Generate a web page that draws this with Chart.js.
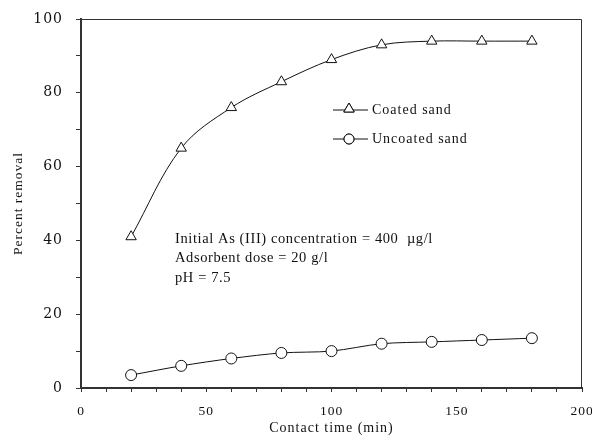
<!DOCTYPE html>
<html>
<head>
<meta charset="utf-8">
<script src="https://cdn.jsdelivr.net/npm/chart.js@4"></script>
<style>
  html, body { margin: 0; padding: 0; background: #fff; }
  #wrap { width: 592px; height: 436px; }
</style>
</head>
<body>
<div id="wrap"><canvas id="myChart" width="592" height="436"></canvas></div>
<script>
const contactTime = [20, 40, 60, 80, 100, 120, 140, 160, 180];
const coatedSand = [41, 65, 76, 83, 89, 93, 94, 94, 94];
const uncoatedSand = [3.5, 6, 8, 9.5, 10, 12, 12.5, 13, 13.5];
const seriesNames = ["Coated sand", "Uncoated sand"];
const noteLines = [
  "Initial As (III) concentration = 400  \u00b5g/l",
  "Adsorbent dose = 20 g/l",
  "pH = 7.5"
];

const ink = "#111";
const serif = "'Liberation Serif', 'DejaVu Serif', serif";

// letter spacing for the old bitmap-ish look
const spacing = {
  id: "spacing",
  beforeLayout(chart) { chart.ctx.letterSpacing = "1px"; },
  beforeDraw(chart) { chart.ctx.letterSpacing = "1px"; }
};

// thin box round the plot, legend and note text
const extras = {
  id: "extras",
  afterDraw(chart) {
    const ctx = chart.ctx;
    const a = chart.chartArea;
    ctx.save();
    ctx.strokeStyle = "#333";
    ctx.lineWidth = 1;
    ctx.beginPath();
    ctx.moveTo(a.left, a.top + 0.5);
    ctx.lineTo(a.right - 0.5, a.top + 0.5);
    ctx.lineTo(a.right - 0.5, a.bottom);
    ctx.stroke();

    // legend
    ctx.letterSpacing = "1px";
    ctx.font = "14px " + serif;
    ctx.fillStyle = ink;
    ctx.textBaseline = "middle";
    const legendY = [110, 139];
    const styles = ["triangle", "circle"];
    for (let i = 0; i < seriesNames.length; i++) {
      const y = legendY[i];
      ctx.strokeStyle = ink;
      ctx.lineWidth = 1;
      ctx.beginPath();
      ctx.moveTo(333, y);
      ctx.lineTo(368, y);
      ctx.stroke();
      Chart.helpers.drawPoint(ctx, {
        pointStyle: styles[i], radius: styles[i] === "triangle" ? 6 : 5,
        borderWidth: 1
      }, 349, styles[i] === "triangle" ? y - 1 : y);
      ctx.fillStyle = "#fff";
      ctx.fill();
      ctx.stroke();
      ctx.fillStyle = ink;
      ctx.fillText(seriesNames[i], 372, y);
    }

    // note
    ctx.letterSpacing = "0.6px";
    ctx.font = "14.5px " + serif;
    noteLines.forEach((t, i) => ctx.fillText(t, 175, 239 + i * 19.5));
    ctx.restore();
  }
};

const ctx = document.getElementById("myChart").getContext("2d");
const myChart = new Chart(ctx, {
  type: "line",
  data: {
    datasets: [
      {
        label: seriesNames[0],
        data: contactTime.map((t, i) => ({ x: t, y: coatedSand[i] })),
        borderColor: ink,
        borderWidth: 1,
        tension: 0.35,
        pointStyle: "triangle",
        pointRadius: 6,
        pointBorderWidth: 1,
        pointBackgroundColor: "#fff",
        pointBorderColor: ink
      },
      {
        label: seriesNames[1],
        data: contactTime.map((t, i) => ({ x: t, y: uncoatedSand[i] })),
        borderColor: ink,
        borderWidth: 1,
        tension: 0.3,
        pointStyle: "circle",
        pointRadius: 5.5,
        pointBorderWidth: 1,
        pointBackgroundColor: "#fff",
        pointBorderColor: ink
      }
    ]
  },
  options: {
    responsive: false,
    animation: false,
    layout: { padding: { left: 0, top: 19, right: 10, bottom: 0 } },
    plugins: {
      legend: { display: false },
      tooltip: { enabled: false }
    },
    scales: {
      x: {
        type: "linear",
        min: 0,
        max: 200,
        afterFit(scale) {
          scale.height = 48;
          scale.paddingLeft = 0;
          scale.paddingRight = 0;
        },
        border: { display: true, color: "#333", width: 2 },
        grid: { drawOnChartArea: false, drawTicks: true, tickLength: 4, color: "#333" },
        ticks: {
          stepSize: 10,
          autoSkip: false,
          maxRotation: 0,
          color: ink,
          padding: 11,
          font: { family: serif, size: 13.5 },
          callback: v => (v % 50 === 0 ? String(v) : "")
        },
        title: {
          display: true,
          text: "Contact time (min)",
          color: ink,
          font: { family: serif, size: 14 },
          padding: { top: 0, bottom: -1 }
        }
      },
      y: {
        min: 0,
        max: 100,
        afterFit(scale) {
          scale.width = 81;
          scale.paddingTop = 0;
          scale.paddingBottom = 0;
        },
        border: { display: true, color: "#333", width: 2 },
        grid: { drawOnChartArea: false, drawTicks: true, tickLength: 5, color: "#333" },
        ticks: {
          stepSize: 10,
          autoSkip: false,
          color: ink,
          padding: 13,
          font: { family: "'DejaVu Serif', serif", size: 14 },
          callback: v => (v % 20 === 0 ? String(v) : "")
        },
        title: {
          display: true,
          text: "Percent removal",
          color: ink,
          font: { family: serif, size: 13.5 },
          padding: { top: 10, bottom: 0 }
        }
      }
    }
  },
  plugins: [spacing, extras]
});
</script>
</body>
</html>
